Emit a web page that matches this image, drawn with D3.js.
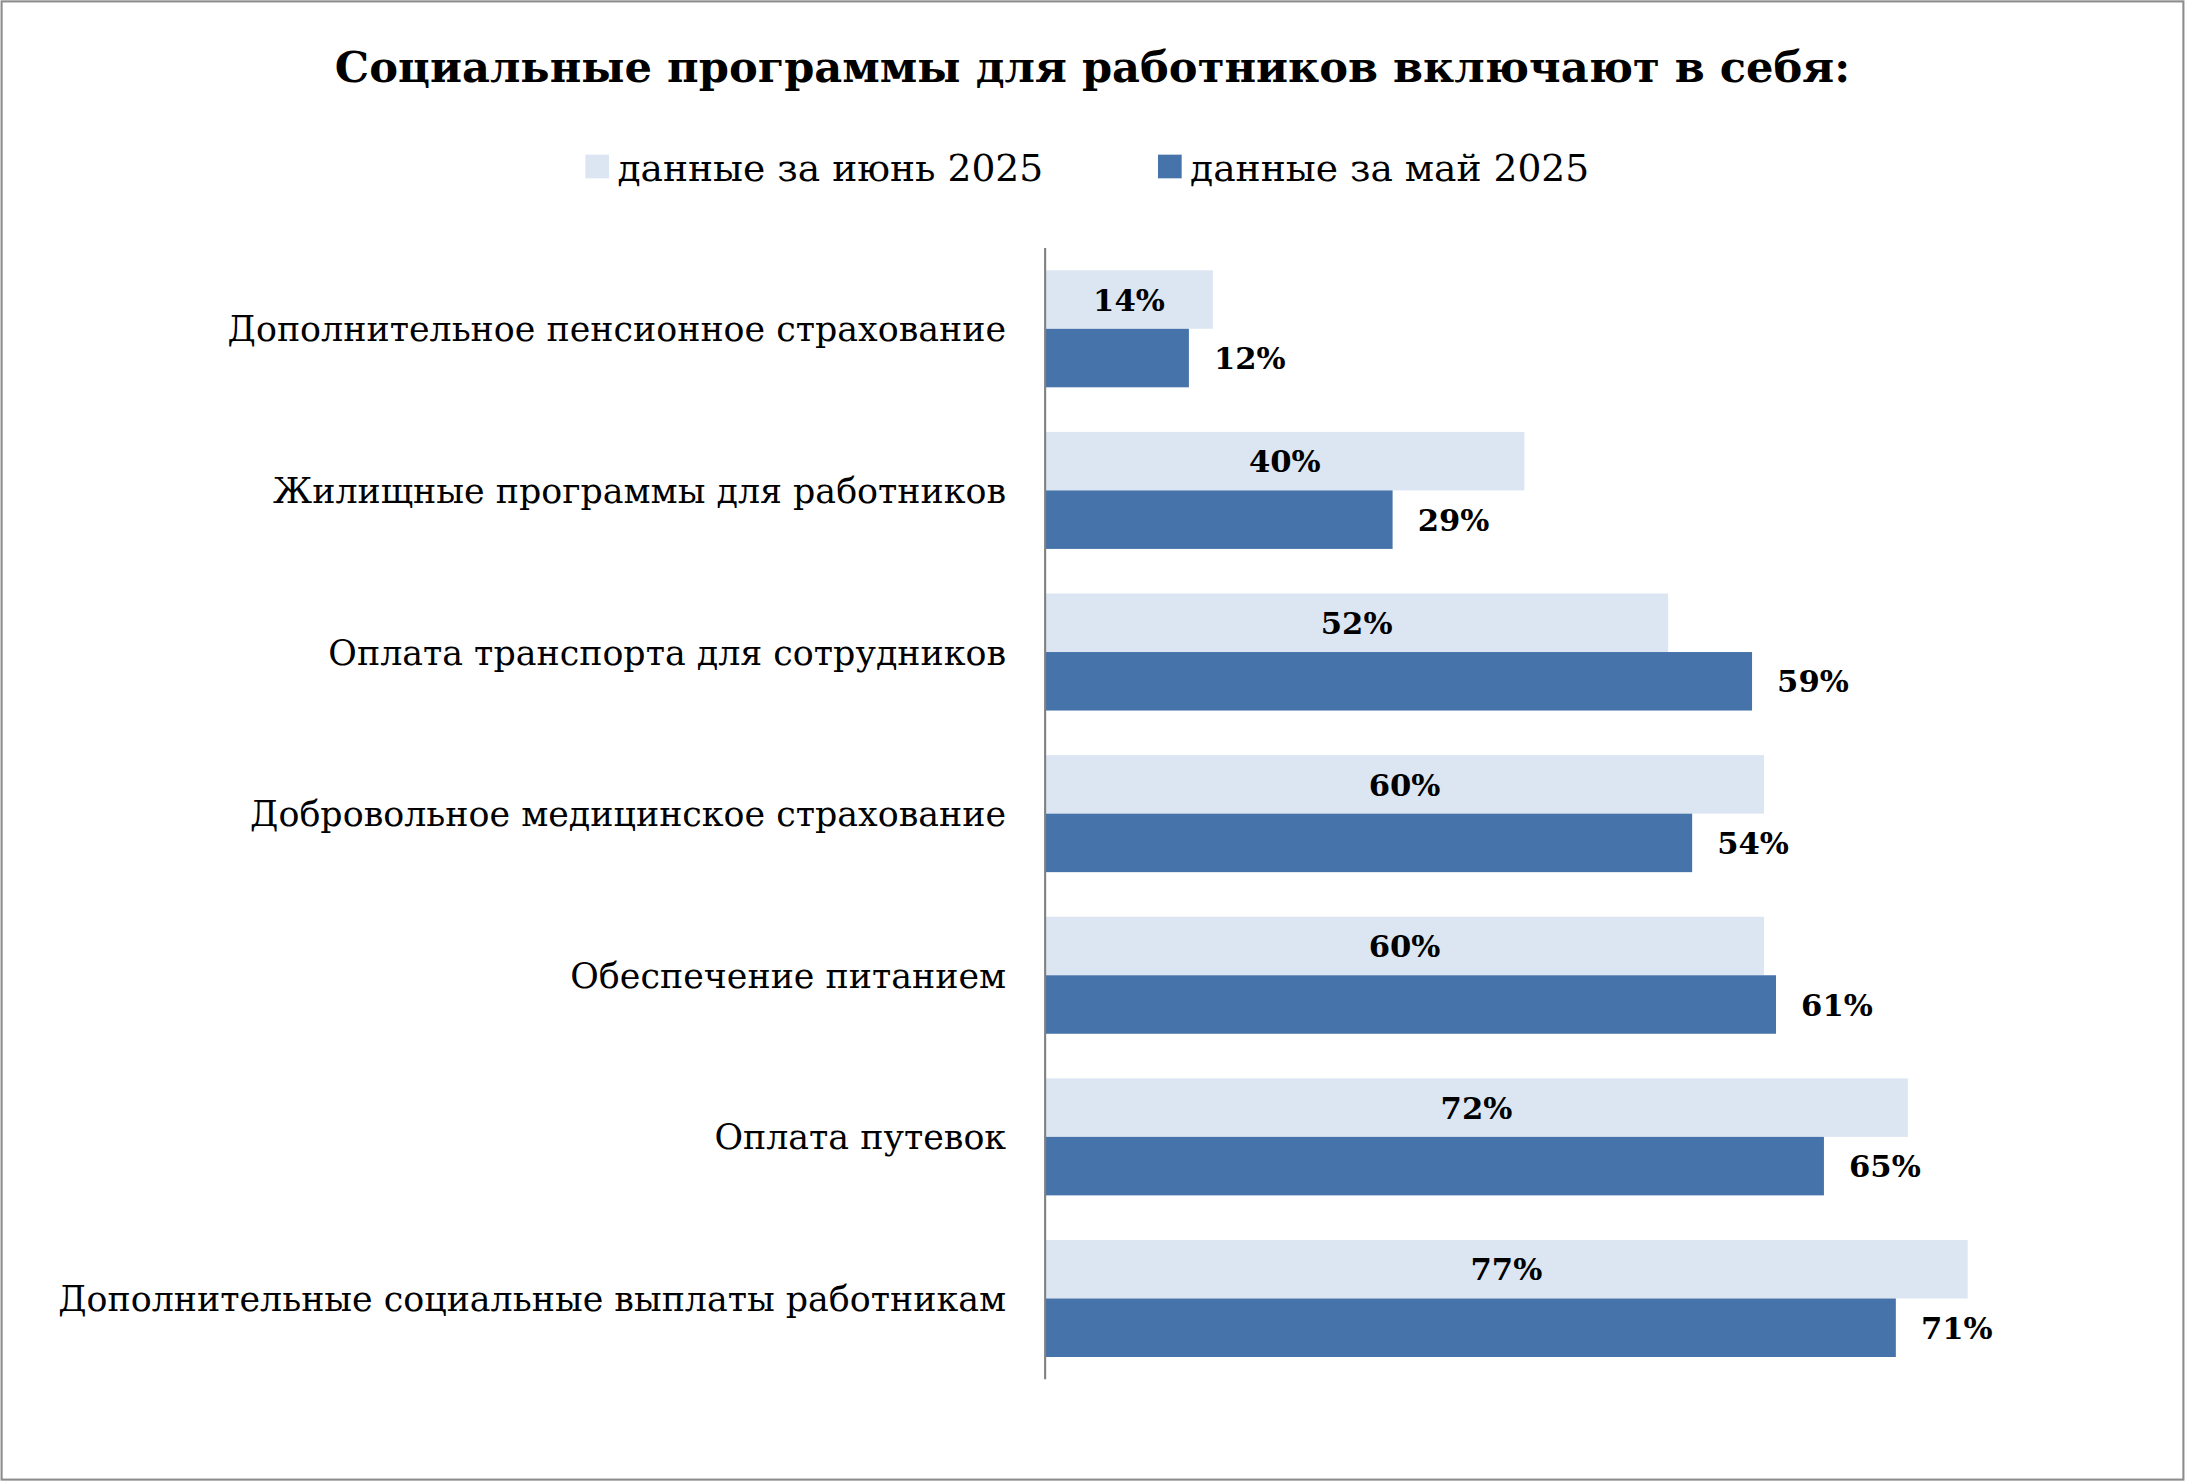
<!DOCTYPE html>
<html><head><meta charset="utf-8">
<script src="https://cdn.jsdelivr.net/npm/d3@7"></script>
<style>body{margin:0;background:#fff}text{font-family:"DejaVu Serif",Georgia,serif}</style>
</head><body>
<svg id="chart"></svg>
<script>
const categories = [
  "Дополнительное пенсионное страхование",
  "Жилищные программы для работников",
  "Оплата транспорта для сотрудников",
  "Добровольное медицинское страхование",
  "Обеспечение питанием",
  "Оплата путевок",
  "Дополнительные социальные выплаты работникам"
];
const june = [14, 40, 52, 60, 60, 72, 77];
const may = [12, 29, 59, 54, 61, 65, 71];
const seriesNames = ["данные за июнь 2025", "данные за май 2025"];

const W = 1568, H = 1063;
const svg = d3.select("#chart")
  .attr("width", 2185).attr("height", 1481)
  .attr("viewBox", `0 0 ${W} ${H}`);

svg.append("rect").attr("x", 1).attr("y", 1).attr("width", W - 2).attr("height", H - 2)
  .attr("fill", "#fff").attr("stroke", "#8c8c8c").attr("stroke-width", 1.5);

// title
svg.append("text").attr("x", 784).attr("y", 59).attr("text-anchor", "middle")
  .attr("font-size", 31).attr("font-weight", "bold").text("Социальные программы для работников включают в себя:");

// legend
const colors = ["#dce6f2", "#4674aa"];
const legX = [420, 831];
seriesNames.forEach((n, i) => {
  svg.append("rect").attr("x", legX[i]).attr("y", 111).attr("width", 17).attr("height", 17).attr("fill", colors[i]);
  svg.append("text").attr("x", legX[i] + 23).attr("y", 130).attr("font-size", 27).text(n);
});

const x0 = 750;
const x = d3.scaleLinear().domain([0, 100]).range([0, 860]);
const y = d3.scaleBand().domain(categories).range([178, 990]).paddingInner(0.276).paddingOuter(0.138);
const bh = y.bandwidth() / 2;

const g = svg.append("g");
categories.forEach((c, i) => {
  const top = y(c);
  g.append("rect").attr("x", x0).attr("y", top).attr("width", x(june[i])).attr("height", bh).attr("fill", colors[0]);
  g.append("rect").attr("x", x0).attr("y", top + bh).attr("width", x(may[i])).attr("height", bh).attr("fill", colors[1]);
  g.append("text").attr("x", x0 + x(june[i]) / 2).attr("y", top + bh / 2 + 8).attr("text-anchor", "middle")
    .attr("font-size", 22).attr("font-weight", "bold").text(june[i] + "%");
  g.append("text").attr("x", x0 + x(may[i]) + 18).attr("y", top + bh * 1.5 + 8)
    .attr("font-size", 22).attr("font-weight", "bold").text(may[i] + "%");
  g.append("text").attr("x", 722).attr("y", top + bh + 9).attr("text-anchor", "end")
    .attr("font-size", 25).text(c);
});

svg.append("line").attr("x1", x0).attr("x2", x0).attr("y1", 178).attr("y2", 990)
  .attr("stroke", "#808080").attr("stroke-width", 1.5);
</script>
</body></html>
